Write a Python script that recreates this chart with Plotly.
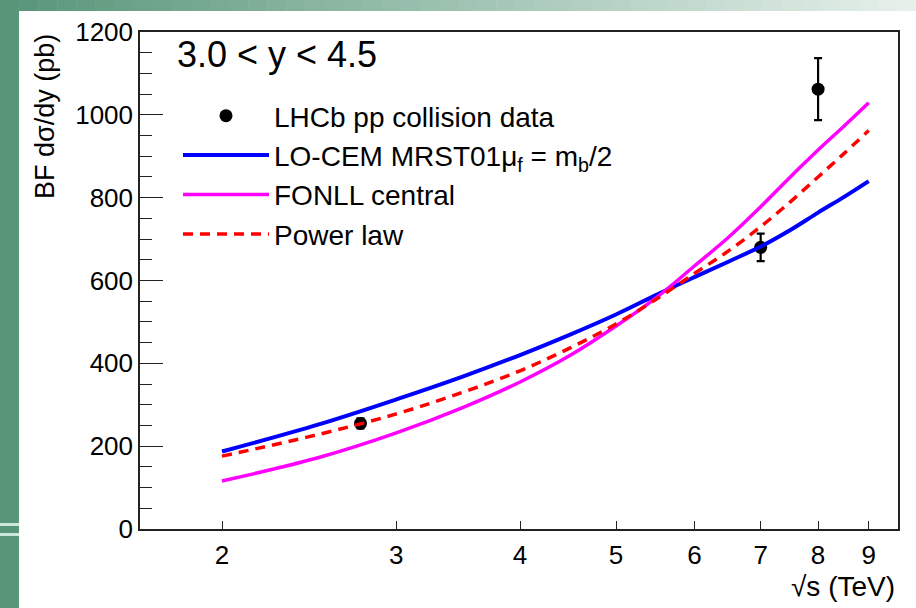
import plotly.graph_objects as go

# ---------------- data ----------------
data_sqrt_s = [2.76, 7.0, 8.0]
data_xsec = [255, 680, 1062]
data_err = [12, 33, 75]

curve_sqrt_s = [2.0, 2.5, 3.0, 3.5, 4.0, 4.5, 5.0, 5.5, 6.0, 6.5, 7.0, 7.5, 8.0, 8.5, 9.0]
lo_cem = [187, 252, 313, 368, 420, 470, 518, 566, 608, 646, 682, 722, 764, 802, 840]
fonll = [116, 172, 232, 293, 355, 420, 490, 560, 635, 705, 778, 850, 915, 973, 1029]
power_law = [176, 228, 278, 330, 382, 438, 495, 556, 617, 672, 730, 790, 850, 907, 962]

x_tick_vals = [2, 3, 4, 5, 6, 7, 8, 9]
y_tick_vals = [0, 200, 400, 600, 800, 1000, 1200]

FONT = "Liberation Sans, Arial, sans-serif"

# ---------------- layout geometry (px) ----------------
W, H = 916, 608
L, R, T, B = 140, 18, 32, 79
PW = W - L - R
PH = H - T - B


def px_to_paper_x(px):
    return (px - L) / PW


def py_to_paper_y(py):
    return (H - B - py) / PH


fig = go.Figure()

fig.add_trace(go.Scatter(
    x=data_sqrt_s, y=data_xsec, mode="markers",
    name="LHCb pp collision data", legendgroup="a",
    marker=dict(color="black", size=13),
    error_y=dict(type="data", array=data_err, color="black", thickness=2.2, width=4),
))
fig.add_trace(go.Scatter(
    x=curve_sqrt_s, y=lo_cem, mode="lines", line_shape="spline",
    name="LO-CEM MRST01μ<sub>f</sub> = m<sub>b</sub>/2", legendgroup="b",
    line=dict(color="#0000ff", width=4),
))
fig.add_trace(go.Scatter(
    x=curve_sqrt_s, y=fonll, mode="lines", line_shape="spline",
    name="FONLL central", legendgroup="c",
    line=dict(color="#ff00ff", width=3.5),
))
fig.add_trace(go.Scatter(
    x=curve_sqrt_s, y=power_law, mode="lines", line_shape="spline",
    name="Power law", legendgroup="d",
    line=dict(color="#ff0000", width=3.5, dash="10px,7px"),
))

# slide background decoration (green strips)
shapes = []
left_col = (88, 150, 122)
right_col = (230, 240, 234)
n = 48
for i in range(n):
    x0 = i * W / n
    x1 = (i + 1) * W / n + 0.5
    t = i / (n - 1)
    c = tuple(int(left_col[k] + (right_col[k] - left_col[k]) * t) for k in range(3))
    shapes.append(dict(type="rect", xref="paper", yref="paper",
                       x0=px_to_paper_x(x0), x1=px_to_paper_x(x1),
                       y0=py_to_paper_y(11), y1=py_to_paper_y(0),
                       fillcolor="rgb(%d,%d,%d)" % c, line=dict(width=0), layer="below"))
shapes.append(dict(type="rect", xref="paper", yref="paper",
                   x0=px_to_paper_x(0), x1=px_to_paper_x(19),
                   y0=py_to_paper_y(H), y1=py_to_paper_y(0),
                   fillcolor="rgb(88,150,122)", line=dict(width=0), layer="below"))
for yy in (523, 533):
    shapes.append(dict(type="rect", xref="paper", yref="paper",
                       x0=px_to_paper_x(0), x1=px_to_paper_x(19),
                       y0=py_to_paper_y(yy + 3), y1=py_to_paper_y(yy),
                       fillcolor="rgb(205,232,218)", line=dict(width=0), layer="below"))

annotations = [
    dict(text="3.0 < y < 4.5", xref="paper", yref="paper",
         x=px_to_paper_x(175), y=py_to_paper_y(55), xanchor="left", yanchor="middle",
         showarrow=False, font=dict(family=FONT, size=36, color="black")),
    dict(text="BF dσ/dy (pb)", xref="paper", yref="paper", textangle=-90,
         x=px_to_paper_x(45), y=py_to_paper_y(117), xanchor="center", yanchor="middle",
         showarrow=False, font=dict(family=FONT, size=27, color="black")),
    dict(text="√s (TeV)", xref="paper", yref="paper",
         x=px_to_paper_x(897), y=py_to_paper_y(586), xanchor="right", yanchor="middle",
         showarrow=False, font=dict(family=FONT, size=28, color="black")),
]

fig.update_layout(
    width=W, height=H,
    margin=dict(l=L, r=R, t=T, b=B),
    paper_bgcolor="white", plot_bgcolor="white",
    font=dict(family=FONT, color="black"),
    shapes=shapes,
    annotations=annotations,
    showlegend=True,
    legend=dict(
        x=px_to_paper_x(178), y=py_to_paper_y(91), xanchor="left", yanchor="top",
        bgcolor="rgba(0,0,0,0)", font=dict(family=FONT, size=28, color="black"),
        tracegroupgap=0, itemwidth=86,
    ),
    xaxis=dict(
        type="log", range=[0.2182, 0.9838],
        tickvals=x_tick_vals, ticktext=[str(v) for v in x_tick_vals],
        ticks="inside", ticklen=8, tickwidth=1, tickcolor="#222",
        showline=True, linecolor="#222", linewidth=1.5, mirror=True,
        showgrid=False, zeroline=False,
        tickfont=dict(family=FONT, size=26, color="black"),
        ticklabelstandoff=2,
    ),
    yaxis=dict(
        range=[0, 1200],
        tickvals=y_tick_vals,
        ticks="inside", ticklen=23, tickwidth=1, tickcolor="#222",
        minor=dict(dtick=50, ticks="inside", ticklen=12, tickcolor="#222", tickwidth=1, showgrid=False),
        showline=True, linecolor="#222", linewidth=1.5, mirror=True,
        showgrid=False, zeroline=False,
        tickfont=dict(family=FONT, size=26, color="black"),
        ticklabelstandoff=0,
    ),
)

fig.write_html("out.html")
